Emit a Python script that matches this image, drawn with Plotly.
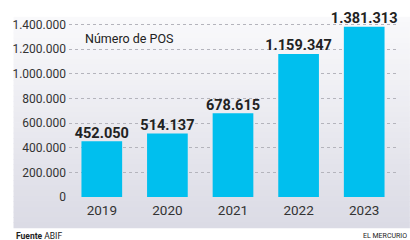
import plotly.graph_objects as go

years = ["2019", "2020", "2021", "2022", "2023"]
pos_counts = [452050, 514137, 678615, 1159347, 1381313]
tick_vals = [0, 200000, 400000, 600000, 800000, 1000000, 1200000, 1400000]
tick_text = ["0", "200.000", "400.000", "600.000", "800.000", "1.000.000", "1.200.000", "1.400.000"]
value_labels = ["452.050", "514.137", "678.615", "1.159.347", "1.381.313"]

W, H = 410, 240
L, R, T, B = 66, 13, 17, 43

fig = go.Figure()
fig.add_trace(go.Bar(
    x=years, y=pos_counts,
    marker=dict(color="#00bfee", line=dict(width=0)),
    hoverinfo="skip",
))
fig.add_trace(go.Scatter(
    x=years, y=pos_counts, mode="text",
    text=["<b>%s</b>" % t for t in value_labels], textposition="top center",
    textfont=dict(family="Roboto, sans-serif", size=14.5, color="#222222"),
    cliponaxis=False, hoverinfo="skip",
))

# gradient panel background (paper coords)
shapes = []
n = 40
x0p, x1p = (10 - L) / (W - L - R), 1 + R / (W - L - R)
ph = H - T - B
y_top = 1 + (T - 17) / ph
y_bot = -(228 - (H - B)) / ph
c_top = (249, 249, 251)
c_bot = (219, 219, 229)
for i in range(n):
    f = i / (n - 1)
    c = tuple(round(c_top[k] + (c_bot[k] - c_top[k]) * f) for k in range(3))
    ya = y_top - (y_top - y_bot) * i / n
    yb = y_top - (y_top - y_bot) * (i + 1) / n
    shapes.append(dict(type="rect", xref="paper", yref="paper", x0=x0p, x1=x1p,
                       y0=yb - 0.002, y1=ya + 0.002, fillcolor="rgb(%d,%d,%d)" % c,
                       line=dict(width=0), layer="below"))

fig.update_layout(
    width=W, height=H,
    margin=dict(l=L, r=R, t=T, b=B),
    paper_bgcolor="white", plot_bgcolor="rgba(0,0,0,0)",
    bargap=0.38,
    showlegend=False,
    shapes=shapes,
    font=dict(family="Roboto, sans-serif", color="#333333"),
    xaxis=dict(showgrid=False, showline=False, ticks="", zeroline=False,
               tickfont=dict(size=13.5, color="#333333"), ticklabelstandoff=3),
    yaxis=dict(range=[0, 1460000], tickvals=tick_vals, ticktext=tick_text,
               showgrid=True, gridcolor="#b4b4bc", griddash="dot", gridwidth=1,
               zeroline=False, showline=False, ticks="",
               tickfont=dict(size=12, color="#333333"), ticklabelstandoff=2),
    annotations=[
        dict(text="Número de POS", xref="paper", yref="paper", x=(80 - L) / (W - L - R),
             y=1 - (38 - T) / ph, xanchor="left", yanchor="middle", showarrow=False,
             font=dict(size=12.5, color="#222222")),
        dict(text="<b>Fuente</b> ABIF", xref="paper", yref="paper", x=(10 - L) / (W - L - R),
             y=-(236 - (H - B)) / ph, xanchor="left", yanchor="middle", showarrow=False,
             font=dict(size=8.5, color="#222222")),
        dict(text="EL MERCURIO", xref="paper", yref="paper", x=(409 - L) / (W - L - R),
             y=-(236 - (H - B)) / ph, xanchor="right", yanchor="middle", showarrow=False,
             font=dict(size=7, color="#222222")),
    ],
)

fig.write_html("out.html", config={"displayModeBar": False},
               post_script="document.body.style.margin='0';document.body.style.overflow='hidden';")
